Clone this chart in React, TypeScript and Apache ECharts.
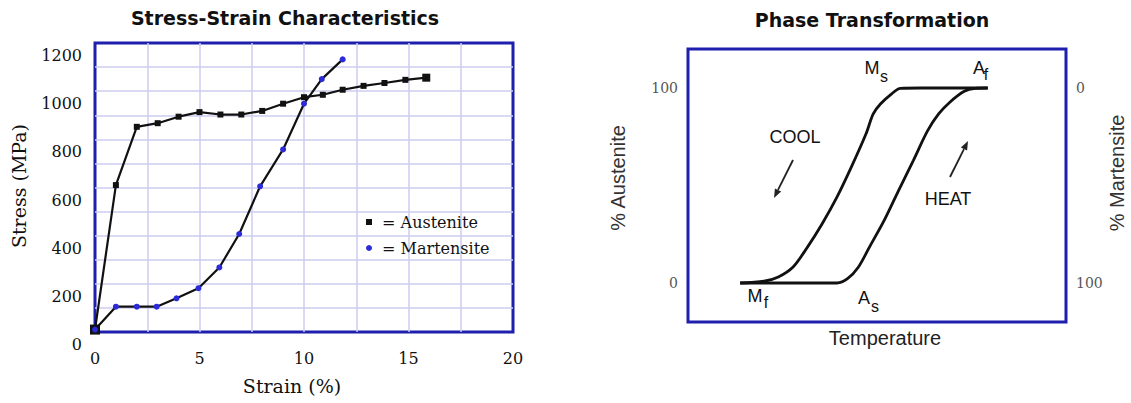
import React, { useEffect, useRef } from 'react';
import * as echarts from 'echarts';

// ---- Stress-strain data (strain %, stress MPa) ----
const strainTicks = [0, 5, 10, 15, 20];
const stressTicks = [0, 200, 400, 600, 800, 1000, 1200];
const austeniteStrain = [0, 1, 2, 3, 4, 5, 6, 7, 8, 9, 10, 10.9, 11.85, 12.85, 13.85, 14.85, 15.85];
const austeniteStress = [10, 610, 852, 867, 894, 913, 903, 903, 918, 948, 975, 985, 1006, 1022, 1034, 1047, 1056];
const martensiteStrain = [0, 1, 2, 2.95, 3.9, 4.95, 5.95, 6.9, 7.9, 9, 10, 10.85, 11.85];
const martensiteStress = [10, 105, 105, 105, 140, 182, 268, 407, 605, 758, 948, 1050, 1132];

// ---- Phase transformation data (relative temperature, % austenite) ----
const austeniteTicks = [0, 100];
const coolTemp = [13.8, 20.1, 23.9, 27.8, 31.6, 35.5, 39.4, 43.2, 47.1, 49.0, 50.9, 53.8, 56.2, 61.5, 79.3];
const coolAustenite = [0, 0.9, 3.1, 8.2, 18.4, 30.4, 44.0, 59.4, 76.5, 86.7, 91.8, 96.9, 99.8, 100, 100];
const heatTemp = [13.8, 39.4, 42.2, 45.1, 48.0, 51.9, 55.7, 59.6, 63.4, 66.3, 69.2, 73.1, 76.0, 79.3];
const heatAustenite = [0, 0, 2.2, 8.2, 18.4, 32.1, 47.4, 62.8, 78.1, 86.7, 92.6, 98.3, 99.8, 100];

const BLUE = '#1f1fae';
const GRIDLINE = '#cdcdf0';
const SERIF = 'DejaVu Serif';
const SANS = 'Liberation Sans';

function arrow(x1: number, y1: number, x2: number, y2: number, head = 9, half = 3.5) {
  const dx = x2 - x1, dy = y2 - y1, L = Math.hypot(dx, dy);
  const ux = dx / L, uy = dy / L;
  const bx = x2 - ux * head, by = y2 - uy * head;
  return [
    { type: 'line', shape: { x1, y1, x2: bx, y2: by }, style: { stroke: '#222', lineWidth: 1.8 } },
    {
      type: 'polygon',
      shape: { points: [[x2, y2], [bx - uy * half, by + ux * half], [bx + uy * half, by - ux * half]] },
      style: { fill: '#222' },
    },
  ];
}

function txt(text: string, x: number, y: number, font: any, extra: any = {}) {
  return {
    type: 'text', x, y, ...extra,
    style: { text, fill: '#111', align: 'center', verticalAlign: 'middle', ...font },
  };
}

export default function App() {
  const ref = useRef<HTMLDivElement>(null);
  useEffect(() => {
    if (!ref.current) return;
    const chart = echarts.init(ref.current, undefined, { renderer: 'svg' });

    const aData: any[] = austeniteStrain.map((s, i) => [s, austeniteStress[i]]);
    aData[0] = { value: aData[0], symbolSize: 10 };
    aData[aData.length - 1] = { value: aData[aData.length - 1], symbolSize: 8 };
    const mData = martensiteStrain.map((s, i) => [s, martensiteStress[i]]);
    const coolData = coolTemp.map((t, i) => [t, coolAustenite[i]]);
    const heatData = heatTemp.map((t, i) => [t, heatAustenite[i]]);

    const serifLabel = { fontFamily: SERIF, fontSize: 16, color: '#111' };
    const subFont = { fontFamily: SANS, fontSize: 16, fill: '#111' };
    const capFont = { fontFamily: SANS, fontSize: 18, fill: '#111' };
    const gridSplit = { show: true, showMinLine: false, showMaxLine: false, lineStyle: { color: GRIDLINE, width: 1.5 } };

    chart.setOption({
      animation: false,
      backgroundColor: '#fff',
      grid: [
        { left: 95, top: 43, width: 418, height: 289, show: true, borderColor: BLUE, borderWidth: 3, backgroundColor: 'transparent' },
        { left: 688, top: 49, width: 378, height: 273, show: true, borderColor: BLUE, borderWidth: 3, backgroundColor: 'transparent' },
      ],
      legend: {
        left: 361, top: 209, orient: 'vertical', itemWidth: 6, itemHeight: 6, itemGap: 10,
        formatter: ' = {name}',
        textStyle: { fontFamily: SERIF, fontSize: 16, color: '#111' },
        data: [
          { name: 'Austenite', icon: 'rect', itemStyle: { color: '#111' } },
          { name: 'Martensite', icon: 'circle', itemStyle: { color: '#2b2bd9' } },
        ],
      },
      xAxis: [
        {
          gridIndex: 0, type: 'value', min: strainTicks[0], max: strainTicks[strainTicks.length - 1], interval: 2.5,
          axisLine: { show: false }, axisTick: { show: false },
          axisLabel: {
            ...serifLabel, margin: 17, lineHeight: 18, showMinLabel: true, showMaxLabel: true,
            formatter: (v: number) => (strainTicks.includes(v) ? String(v) : ''),
          },
          splitLine: gridSplit,
        },
        { gridIndex: 1, type: 'value', min: 0, max: 100, show: false },
      ],
      yAxis: [
        {
          gridIndex: 0, type: 'value', min: stressTicks[0], max: stressTicks[stressTicks.length - 1], interval: 100,
          axisLine: { show: false }, axisTick: { show: false },
          axisLabel: {
            ...serifLabel, margin: 13, verticalAlign: 'top', lineHeight: 25, showMaxLabel: true,
            formatter: (v: number) => (stressTicks.includes(v) ? String(v) : ''),
          },
          splitLine: gridSplit,
        },
        {
          gridIndex: 1, type: 'value', min: -20, max: 120, interval: 20, position: 'left',
          axisLine: { show: false }, axisTick: { show: false }, splitLine: { show: false },
          axisLabel: {
            fontFamily: SERIF, fontSize: 14, color: '#555', margin: 10,
            formatter: (v: number) => (austeniteTicks.includes(v) ? String(v) : ''),
          },
        },
        {
          gridIndex: 1, type: 'value', min: -20, max: 120, interval: 20, position: 'right',
          axisLine: { show: false }, axisTick: { show: false }, splitLine: { show: false },
          axisLabel: {
            fontFamily: SERIF, fontSize: 14, color: '#555', margin: 10,
            formatter: (v: number) => (austeniteTicks.includes(v) ? String(100 - v) : ''),
          },
        },
      ],
      series: [
        {
          name: 'Austenite', type: 'line', xAxisIndex: 0, yAxisIndex: 0, data: aData,
          symbol: 'rect', symbolSize: 6, itemStyle: { color: '#111' },
          lineStyle: { color: '#111', width: 2.2 },
        },
        {
          name: 'Martensite', type: 'line', xAxisIndex: 0, yAxisIndex: 0, data: mData,
          symbol: 'circle', symbolSize: 6, itemStyle: { color: '#2b2bd9' },
          lineStyle: { color: '#111', width: 2.2 }, z: 3,
        },
        {
          name: 'Cool', type: 'line', xAxisIndex: 1, yAxisIndex: 1, data: coolData,
          showSymbol: false, smooth: 0.3,
          lineStyle: { color: '#111', width: 2.8 },
        },
        {
          name: 'Heat', type: 'line', xAxisIndex: 1, yAxisIndex: 1, data: heatData,
          showSymbol: false, smooth: 0.3,
          lineStyle: { color: '#111', width: 2.8 },
        },
      ],
      graphic: [
        txt('Stress-Strain Characteristics', 285, 18, { fontFamily: 'DejaVu Sans', fontWeight: 'bold', fontSize: 19 }),
        txt('Stress (MPa)', 19, 186, { fontFamily: SERIF, fontSize: 19 }, { rotation: Math.PI / 2 }),
        txt('Strain (%)', 292, 386, { fontFamily: SERIF, fontSize: 19 }),
        txt('Phase Transformation', 872, 20, { fontFamily: 'DejaVu Sans', fontWeight: 'bold', fontSize: 19 }),
        txt('% Austenite', 618, 178, { fontFamily: SANS, fontSize: 20, fill: '#333' }, { rotation: Math.PI / 2 }),
        txt('% Martensite', 1117, 173, { fontFamily: SANS, fontSize: 20, fill: '#333' }, { rotation: Math.PI / 2 }),
        txt('Temperature', 885, 338, { fontFamily: SANS, fontSize: 20, fill: '#222' }),
        txt('COOL', 795, 137, capFont),
        txt('HEAT', 948, 199, capFont),
        txt('M', 872, 68, capFont),
        txt('s', 884, 76, subFont),
        txt('A', 979, 68, capFont),
        txt('f', 986, 74, subFont),
        txt('M', 755, 296, capFont),
        txt('f', 766, 302, subFont),
        txt('A', 864, 298, capFont),
        txt('s', 875, 306, subFont),
        ...arrow(793, 160, 774, 198),
        ...arrow(950, 177, 968, 141),
      ],
    });
    return () => chart.dispose();
  }, []);
  return (
    <div
      ref={ref}
      style={{ position: 'fixed', left: 0, top: 0, width: 1131, height: 403, background: '#fff' }}
    />
  );
}
